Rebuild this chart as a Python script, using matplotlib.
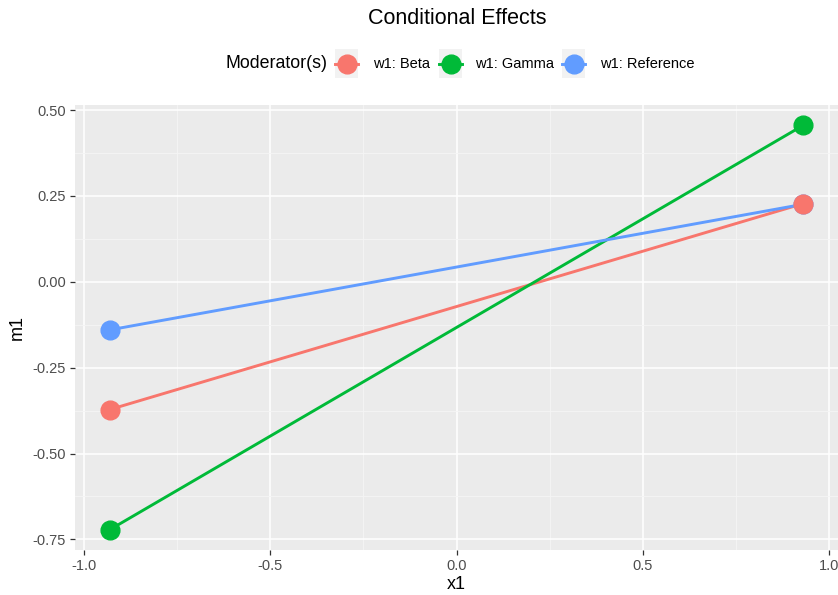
import matplotlib.pyplot as plt
from matplotlib.lines import Line2D
from matplotlib.patches import Rectangle

plt.rcParams['font.family'] = ['Liberation Sans', 'DejaVu Sans']

groups = ["w1: Beta", "w1: Gamma", "w1: Reference"]
colors = ["#F8766D", "#00BA38", "#619CFF"]
x_vals = [-0.93, 0.93]
m1 = {
    "w1: Beta": [-0.372, 0.228],
    "w1: Gamma": [-0.722, 0.456],
    "w1: Reference": [-0.140, 0.226],
}
x_ticks = [-1.0, -0.5, 0.0, 0.5, 1.0]
y_ticks = [-0.75, -0.50, -0.25, 0.00, 0.25, 0.50]

W, H = 838, 595
fig = plt.figure(figsize=(W / 100, H / 100), dpi=100)
ax = fig.add_axes([75 / W, 1 - 550 / H, (838 - 75) / W, (550 - 105) / H])
ax.set_facecolor("#EBEBEB")
for s in ax.spines.values():
    s.set_visible(False)

# lines first, then points
for g, c in zip(groups, colors):
    ax.plot(x_vals, m1[g], color=c, lw=2.1, zorder=3, solid_capstyle='butt')
for g, c in zip(["w1: Reference", "w1: Gamma", "w1: Beta"], [colors[2], colors[1], colors[0]]):
    ax.plot(x_vals, m1[g], 'o', color=c, ms=13.5, zorder=4)

ax.set_xlim(-1.023, 1.023)
ax.set_ylim(-0.781, 0.515)
ax.set_xticks(x_ticks)
ax.set_xticklabels(["-1.0", "-0.5", "0.0", "0.5", "1.0"])
ax.set_yticks(y_ticks)
ax.set_yticklabels([f"{v:.2f}" for v in y_ticks])
ax.set_xticks([-0.75, -0.25, 0.25, 0.75], minor=True)
ax.set_yticks([-0.625, -0.375, -0.125, 0.125, 0.375], minor=True)
ax.grid(True, which='major', color='white', lw=1.1, zorder=0)
ax.grid(True, which='minor', color='#F5F5F5', lw=0.6, zorder=0)
ax.set_axisbelow(True)
ax.tick_params(which='major', length=3.5, width=0.9, color='#333333',
               labelcolor='#4D4D4D', labelsize=10.5, pad=3)
ax.tick_params(which='minor', length=0)

ax.set_xlabel("x1", fontsize=13, color='black', labelpad=2)
ax.set_ylabel("m1", fontsize=13, color='black', labelpad=5)

fig.text(457 / W, 1 - 18 / H, "Conditional Effects", ha='center', va='center', fontsize=15.5)

# legend drawn manually in pixel coordinates
ly = 64
fig.text(327 / W, 1 - ly / H, "Moderator(s)", ha='right', va='center', fontsize=12.8)
boxes = [335, 439, 562]
labels_x = [373, 475, 600]
for bx, lx, g, c in zip(boxes, labels_x, groups, colors):
    fig.add_artist(Rectangle((bx / W, 1 - 78 / H), 23 / W, 29 / H,
                             transform=fig.transFigure, facecolor='#F2F2F2',
                             edgecolor='none'))
    cx = (bx + 11.5) / W
    fig.add_artist(Line2D([bx / W, (bx + 23) / W], [1 - ly / H, 1 - ly / H],
                          transform=fig.transFigure, color=c, lw=2.1))
    fig.add_artist(Line2D([cx], [1 - ly / H], transform=fig.transFigure,
                          marker='o', ms=13.5, color=c, lw=0))
    fig.text(lx / W, 1 - ly / H, g, ha='left', va='center', fontsize=10.5)

fig.savefig("out.png", dpi=100)
